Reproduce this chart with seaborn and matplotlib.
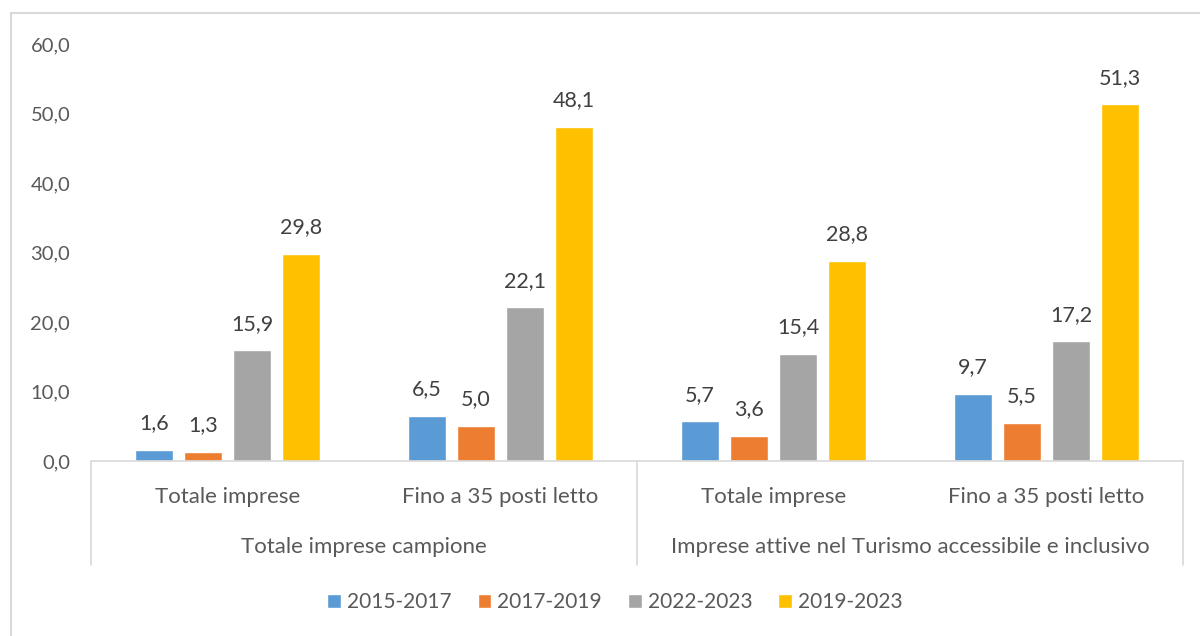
import pandas as pd
import seaborn as sns
import matplotlib.pyplot as plt
from matplotlib.lines import Line2D
from matplotlib.patches import Patch

# data
categories = ["Totale imprese", "Fino a 35 posti letto",
              "Totale imprese", "Fino a 35 posti letto"]
groups = ["Totale imprese campione",
          "Imprese attive nel Turismo accessibile e inclusivo"]
periods = ["2015-2017", "2017-2019", "2022-2023", "2019-2023"]
v_2015_2017 = [1.6, 6.5, 5.7, 9.7]
v_2017_2019 = [1.3, 5.0, 3.6, 5.5]
v_2022_2023 = [15.9, 22.1, 15.4, 17.2]
v_2019_2023 = [29.8, 48.1, 28.8, 51.3]
colors = ["#5b9bd5", "#ed7d31", "#a5a5a5", "#ffc000"]

series = [v_2015_2017, v_2017_2019, v_2022_2023, v_2019_2023]
rows = []
for p, vals in zip(periods, series):
    for i, v in enumerate(vals):
        rows.append({"pos": i, "period": p, "value": v})
df = pd.DataFrame(rows)

sns.set_style("white")
plt.rcParams['font.family'] = ['Lato', 'DejaVu Sans']
txt = "#595959"

fig = plt.figure(figsize=(12, 6.36), dpi=100)
ax = fig.add_axes([91 / 1200, 175 / 636, 1092 / 1200, 417 / 636])

sns.barplot(data=df, x="pos", y="value", hue="period", hue_order=periods,
            palette=colors, width=0.72, gap=0.22, ax=ax, legend=False,
            saturation=1)

for cont in ax.containers:
    ax.bar_label(cont, labels=[f"{b.get_height():.1f}".replace(".", ",") for b in cont],
                 padding=12, fontsize=15.5, color="#404040")

ax.set_xlim(-0.5, 3.5)
ax.set_ylim(0, 60)
ax.set_yticks(range(0, 61, 10))
ax.set_yticklabels([f"{t},0" for t in range(0, 61, 10)], fontsize=14.5, color=txt)
ax.tick_params(axis="y", length=0, pad=15)
ax.set_xticks(range(4))
ax.set_xticklabels(categories, fontsize=16, color=txt)
ax.tick_params(axis="x", length=0, pad=19)
ax.set_xlabel("")
ax.set_ylabel("")
for s in ["top", "right", "left"]:
    ax.spines[s].set_visible(False)
ax.spines["bottom"].set_color("#d9d9d9")
ax.spines["bottom"].set_linewidth(1.2)

# group separators and group labels
tr = ax.get_xaxis_transform()
for xs in [-0.5, 1.5, 3.5]:
    ax.add_line(Line2D([xs, xs], [0, -0.25], transform=tr, color="#d9d9d9",
                       lw=1.2, clip_on=False))
for gx, g in zip([0.5, 2.5], groups):
    ax.text(gx, -0.207, g, transform=tr, ha="center", va="center",
            fontsize=16, color=txt)

# legend
handles = [Patch(facecolor=c, label=p) for c, p in zip(colors, periods)]
fig.legend(handles=handles, loc="center", bbox_to_anchor=(615 / 1200, 1 - 602 / 636),
           ncol=4, frameon=False, fontsize=15, labelcolor=txt,
           handlelength=0.65, handleheight=0.65, handletextpad=0.3, columnspacing=1.25)

# chart border (left and top visible)
fig.add_artist(Line2D([11 / 1200, 11 / 1200], [0, 1 - 13 / 636], color="#d9d9d9", lw=1.5))
fig.add_artist(Line2D([11 / 1200, 1], [1 - 13 / 636, 1 - 13 / 636], color="#d9d9d9", lw=1.5))

fig.savefig("out.png", dpi=100)
